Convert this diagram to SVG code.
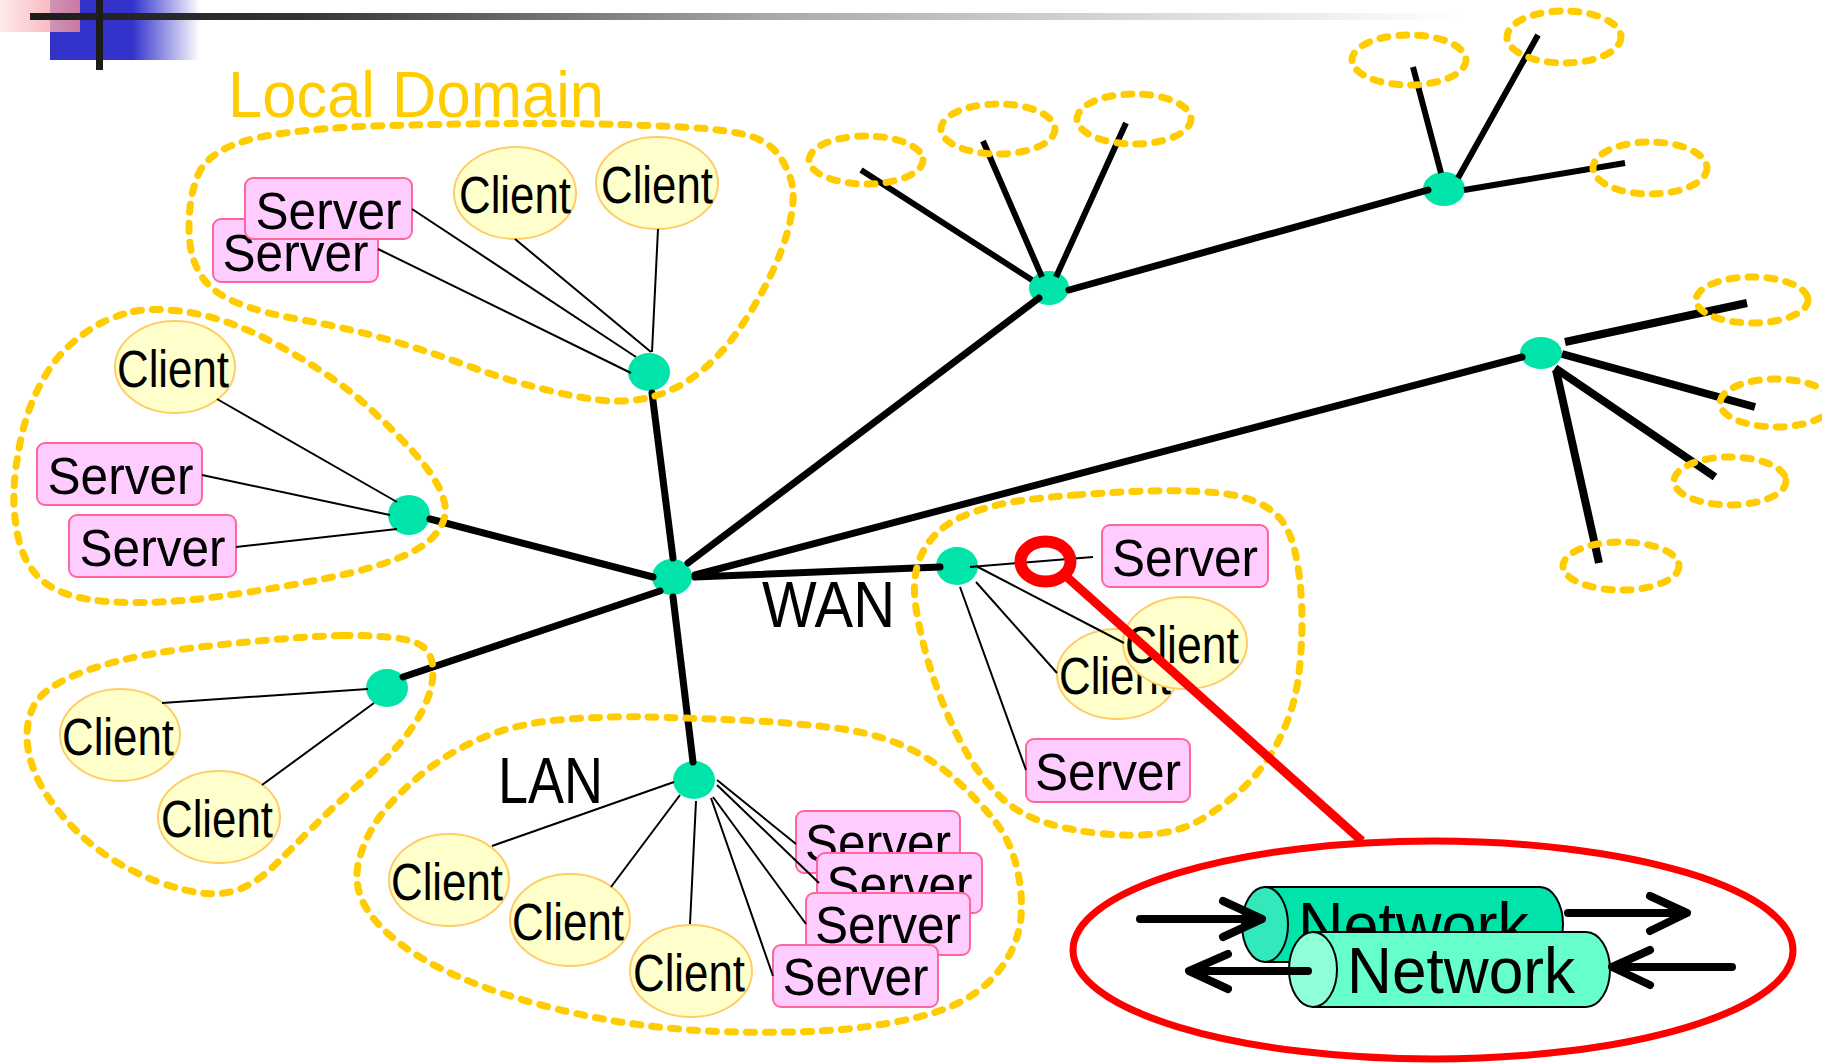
<svg xmlns="http://www.w3.org/2000/svg" width="1822" height="1064" viewBox="0 0 1822 1064">
<defs>
<linearGradient id="hdrLine" gradientUnits="userSpaceOnUse" x1="30" y1="0" x2="1460" y2="0">
<stop offset="0" stop-color="#1c1c1c"/><stop offset="0.19" stop-color="#333"/><stop offset="0.26" stop-color="#4d4d4d"/><stop offset="0.52" stop-color="#aaa"/><stop offset="0.68" stop-color="#c8c8c8"/><stop offset="1" stop-color="#fff"/>
</linearGradient>
<linearGradient id="hdrBlue" gradientUnits="userSpaceOnUse" x1="50" y1="0" x2="200" y2="0">
<stop offset="0" stop-color="#3333cc"/><stop offset="0.55" stop-color="#3333cc"/><stop offset="1" stop-color="#3333cc" stop-opacity="0"/>
</linearGradient>
<linearGradient id="hdrPink" gradientUnits="userSpaceOnUse" x1="0" y1="0" x2="80" y2="0">
<stop offset="0" stop-color="#ffe4e4"/><stop offset="1" stop-color="#f28a96"/>
</linearGradient>
<style>
.hub{fill:#00e3a9}
.cli{fill:#ffffcc;stroke:#ffcc66;stroke-width:2}
.srv{fill:#ffccff;stroke:#ff6699;stroke-width:2}
.lbl{font-family:"Liberation Sans",Arial,sans-serif;font-size:51px;fill:#000}
.big{font-family:"Liberation Sans",Arial,sans-serif;font-size:64px;fill:#000}
.thick{stroke:#000;stroke-width:7;stroke-linecap:round;fill:none}
.twig{stroke:#000;stroke-width:6;fill:none}
.twigB{stroke:#000;stroke-width:8;fill:none}
.thin{stroke:#000;stroke-width:2;fill:none}
.dom{fill:none;stroke:#ffcc00;stroke-width:7;stroke-dasharray:8 11;stroke-linecap:round}
.arr{stroke:#000;stroke-width:8;fill:none;stroke-linecap:round;stroke-linejoin:round}
.cyl{stroke:#000;stroke-width:2}
</style>
</defs>
<rect width="1822" height="1064" fill="#fff"/>

<g id="header">
<rect x="50" y="0" width="150" height="60" fill="url(#hdrBlue)"/>
<rect x="0" y="0" width="80" height="32" fill="url(#hdrPink)" opacity="0.8"/>
<rect x="30" y="13" width="1430" height="7" fill="url(#hdrLine)"/>
<rect x="96" y="0" width="7" height="70" fill="#1c1c1c"/>
</g>

<text id="title" x="228" y="117" font-family="Liberation Sans, Arial, sans-serif" font-size="64" fill="#ffcc00" textLength="376" lengthAdjust="spacingAndGlyphs">Local Domain</text>

<g id="hubs">
<ellipse id="hub-local" class="hub" cx="649" cy="372" rx="21" ry="19"/>
<ellipse id="hub-left" class="hub" cx="409" cy="515" rx="21" ry="20"/>
<ellipse id="hub-lowleft" class="hub" cx="387" cy="688" rx="21" ry="19"/>
<ellipse id="hub-center" class="hub" cx="672" cy="577" rx="20" ry="18"/>
<ellipse id="hub-lan" class="hub" cx="694" cy="780" rx="21" ry="19"/>
<ellipse id="hub-wan" class="hub" cx="957" cy="566" rx="21" ry="19"/>
<ellipse id="hub-a" class="hub" cx="1049" cy="288" rx="20" ry="17"/>
<ellipse id="hub-c" class="hub" cx="1444" cy="189" rx="21" ry="17"/>
<ellipse id="hub-b" class="hub" cx="1541" cy="353" rx="21" ry="16"/>
</g>

<g id="local-server-2"><rect class="srv" x="213" y="219" width="165" height="63" rx="8"/><text class="lbl" x="295.5" y="271" text-anchor="middle" textLength="146" lengthAdjust="spacingAndGlyphs">Server</text></g>
<g id="local-server-1"><rect class="srv" x="245" y="178" width="167" height="61" rx="8"/><text class="lbl" x="328.5" y="229" text-anchor="middle" textLength="146" lengthAdjust="spacingAndGlyphs">Server</text></g>
<g id="local-client-1"><ellipse class="cli" cx="515" cy="193" rx="61" ry="46"/><text class="lbl" x="515" y="213" text-anchor="middle" textLength="112" lengthAdjust="spacingAndGlyphs">Client</text></g>
<g id="local-client-2"><ellipse class="cli" cx="657" cy="183" rx="61" ry="46"/><text class="lbl" x="657" y="203" text-anchor="middle" textLength="112" lengthAdjust="spacingAndGlyphs">Client</text></g>

<g id="left-client"><ellipse class="cli" cx="175" cy="367" rx="60" ry="46"/><text class="lbl" x="173" y="387" text-anchor="middle" textLength="112" lengthAdjust="spacingAndGlyphs">Client</text></g>
<g id="left-server-1"><rect class="srv" x="37" y="443" width="165" height="62" rx="8"/><text class="lbl" x="120.5" y="494" text-anchor="middle" textLength="146" lengthAdjust="spacingAndGlyphs">Server</text></g>
<g id="left-server-2"><rect class="srv" x="69" y="515" width="167" height="62" rx="8"/><text class="lbl" x="152.5" y="566" text-anchor="middle" textLength="146" lengthAdjust="spacingAndGlyphs">Server</text></g>

<g id="ll-client-1"><ellipse class="cli" cx="120" cy="735" rx="60" ry="46"/><text class="lbl" x="118" y="755" text-anchor="middle" textLength="112" lengthAdjust="spacingAndGlyphs">Client</text></g>
<g id="ll-client-2"><ellipse class="cli" cx="219" cy="817" rx="61" ry="46"/><text class="lbl" x="217" y="837" text-anchor="middle" textLength="112" lengthAdjust="spacingAndGlyphs">Client</text></g>

<g id="lan-client-1"><ellipse class="cli" cx="449" cy="880" rx="60" ry="46"/><text class="lbl" x="447" y="900" text-anchor="middle" textLength="112" lengthAdjust="spacingAndGlyphs">Client</text></g>
<g id="lan-client-2"><ellipse class="cli" cx="570" cy="920" rx="60" ry="46"/><text class="lbl" x="568" y="940" text-anchor="middle" textLength="112" lengthAdjust="spacingAndGlyphs">Client</text></g>
<g id="lan-client-3"><ellipse class="cli" cx="691" cy="971" rx="61" ry="46"/><text class="lbl" x="689" y="991" text-anchor="middle" textLength="112" lengthAdjust="spacingAndGlyphs">Client</text></g>
<g id="lan-server-1"><rect class="srv" x="796" y="811" width="164" height="62" rx="8"/><text class="lbl" x="878" y="861" text-anchor="middle" textLength="146" lengthAdjust="spacingAndGlyphs">Server</text></g>
<g id="lan-server-2"><rect class="srv" x="817" y="853" width="165" height="60" rx="8"/><text class="lbl" x="899.5" y="903" text-anchor="middle" textLength="146" lengthAdjust="spacingAndGlyphs">Server</text></g>
<g id="lan-server-3"><rect class="srv" x="806" y="893" width="164" height="62" rx="8"/><text class="lbl" x="888" y="943" text-anchor="middle" textLength="146" lengthAdjust="spacingAndGlyphs">Server</text></g>
<g id="lan-server-4"><rect class="srv" x="773" y="945" width="165" height="62" rx="8"/><text class="lbl" x="855.5" y="995" text-anchor="middle" textLength="146" lengthAdjust="spacingAndGlyphs">Server</text></g>

<g id="wan-server-1"><rect class="srv" x="1102" y="525" width="166" height="62" rx="8"/><text class="lbl" x="1185" y="576" text-anchor="middle" textLength="146" lengthAdjust="spacingAndGlyphs">Server</text></g>
<g id="wan-client-1"><ellipse class="cli" cx="1117" cy="674" rx="60" ry="45"/><text class="lbl" x="1115" y="694" text-anchor="middle" textLength="112" lengthAdjust="spacingAndGlyphs">Client</text></g>
<g id="wan-client-2"><ellipse class="cli" cx="1185" cy="643" rx="62" ry="46"/><text class="lbl" x="1182" y="663" text-anchor="middle" textLength="114" lengthAdjust="spacingAndGlyphs">Client</text></g>
<g id="wan-server-2"><rect class="srv" x="1026" y="739" width="164" height="63" rx="8"/><text class="lbl" x="1108" y="790" text-anchor="middle" textLength="146" lengthAdjust="spacingAndGlyphs">Server</text></g>

<g id="connectors">
<path class="thick" d="M673,558 L652,393 M653,577 L430,519 M660,591 L403,677 M673,597 L693,762 M695,577 L940,567 M688,563 L1039,298 M695,575 L1522,357 M1069,290 L1428,190"/>
<path class="twig" d="M1032,280 L861,170 M1042,277 L983,141 M1056,277 L1126,123 M1441,173 L1413,67 M1458,178 L1538,35"/>
<path class="twig" stroke-width="7" d="M1464,190 L1625,163"/>
<path class="twigB" d="M1565,342 L1747,303 M1562,354 L1755,407 M1555,368 L1715,477 M1556,370 L1599,563"/>
<path class="thin" d="M412,209 L636,357 M378,249 L631,373 M515,239 L651,352 M658,229 L652,352"/>
<path class="thin" d="M217,399 L397,502 M202,475 L390,515 M236,547 L397,529"/>
<path class="thin" d="M162,703 L368,689 M262,785 L374,703"/>
<path class="thin" d="M492,846 L674,782 M611,887 L680,795 M690,924 L696,801 M717,780 L796,844 M717,785 L819,883 M713,797 L806,924 M711,798 L773,976"/>
<path class="thin" d="M970,567 L1093,557 M976,566 L1124,643 M976,582 L1057,673 M960,587 L1026,770"/>
</g>

<g id="domains">
<path class="dom" d="M 198,175 Q 204,160 222.5,150 Q 241,140 271.5,135 Q 302,130 343,127.5 Q 384,125 465.5,124 Q 547,123 598,124 Q 649,125 690,127.5 Q 731,130 751.5,136.5 Q 772,143 782,160 Q 792,177 793,191 Q 794,205 789,226 Q 784,247 771.5,273.5 Q 759,300 741,326.5 Q 723,353 702.5,370 Q 682,387 659.5,394.5 Q 637,402 612.5,401 Q 588,400 547,390 Q 506,380 465.5,365 Q 425,350 384,338.5 Q 343,327 302.5,320 Q 262,313 237.5,303 Q 213,293 202.5,277.5 Q 192,262 190,243.5 Q 188,225 190,207.5 Q 192,190 198,175 Z"/>
<path class="dom" d="M 133.5,311.5 Q 150,308 175,310.5 Q 200,313 225,321.5 Q 250,330 275,343.5 Q 300,357 325,373.5 Q 350,390 371.5,410 Q 393,430 411.5,450 Q 430,470 438.5,486.5 Q 447,503 445,515 Q 443,527 431.5,538.5 Q 420,550 393.5,560 Q 367,570 325,578.5 Q 283,587 233,594.5 Q 183,602 141.5,602.5 Q 100,603 75,596.5 Q 50,590 36.5,575 Q 23,560 18,536.5 Q 13,513 14,490 Q 15,467 21,438.5 Q 27,410 40,385 Q 53,360 70,345 Q 87,330 102,322.5 Q 117,315 133.5,311.5 Z"/>
<path class="dom" d="M 342,635.5 Q 367,635 392,637.5 Q 417,640 425,648.5 Q 433,657 433,672 Q 433,687 425,705 Q 417,723 400,743 Q 383,763 358,785 Q 333,807 313,827 Q 293,847 276.5,863.5 Q 260,880 243.5,887.5 Q 227,895 207,893.5 Q 187,892 160,882.5 Q 133,873 108,856.5 Q 83,840 63,816.5 Q 43,793 35,773 Q 27,753 27,736.5 Q 27,720 33.5,706.5 Q 40,693 61.5,681.5 Q 83,670 116.5,661.5 Q 150,653 191.5,648 Q 233,643 275,639.5 Q 317,636 342,635.5 Z"/>
<path class="dom" d="M 648,717 Q 688,718 737,720 Q 786,722 831,727.5 Q 876,733 905,746.5 Q 934,760 956,780 Q 978,800 994,820 Q 1010,840 1016.5,866.5 Q 1023,893 1021,916.5 Q 1019,940 1005.5,961.5 Q 992,983 967.5,998 Q 943,1013 898,1021.5 Q 853,1030 808.5,1031.5 Q 764,1033 719.5,1031.5 Q 675,1030 630.5,1023.5 Q 586,1017 541,1005 Q 496,993 458,976.5 Q 420,960 395.5,940 Q 371,920 362,900 Q 353,880 360,856.5 Q 367,833 382.5,813 Q 398,793 425,771.5 Q 452,750 485.5,736.5 Q 519,723 563.5,719.5 Q 608,716 648,717 Z"/>
<path class="dom" d="M 1075,495 Q 1100,493 1133.5,491.5 Q 1167,490 1200,491.5 Q 1233,493 1251.5,500 Q 1270,507 1280,518.5 Q 1290,530 1295,551.5 Q 1300,573 1301.5,601.5 Q 1303,630 1300,663.5 Q 1297,697 1287,722 Q 1277,747 1263.5,765 Q 1250,783 1233.5,796.5 Q 1217,810 1200,820 Q 1183,830 1158,833.5 Q 1133,837 1100,833.5 Q 1067,830 1042,821.5 Q 1017,813 1000,796.5 Q 983,780 970,758.5 Q 957,737 945,708.5 Q 933,680 925,650 Q 917,620 915,600 Q 913,580 918,563.5 Q 923,547 936.5,533.5 Q 950,520 975,511.5 Q 1000,503 1025,500 Q 1050,497 1075,495 Z"/>
<ellipse class="dom" cx="866" cy="160" rx="57" ry="24"/>
<ellipse class="dom" cx="998" cy="129" rx="57" ry="25"/>
<ellipse class="dom" cx="1134" cy="119" rx="57" ry="25"/>
<ellipse class="dom" cx="1409" cy="60" rx="57" ry="25"/>
<ellipse class="dom" cx="1564" cy="37" rx="57" ry="26"/>
<ellipse class="dom" cx="1650" cy="168" rx="57" ry="26"/>
<ellipse class="dom" cx="1752" cy="300" rx="56" ry="23"/>
<ellipse class="dom" cx="1776" cy="403" rx="56" ry="24"/>
<ellipse class="dom" cx="1730" cy="481" rx="56" ry="24"/>
<ellipse class="dom" cx="1621" cy="566" rx="58" ry="24"/>
</g>

<text id="lan-label" class="big" x="498" y="803" textLength="105" lengthAdjust="spacingAndGlyphs">LAN</text>
<text id="wan-label" class="big" x="762" y="627" textLength="133" lengthAdjust="spacingAndGlyphs">WAN</text>

<g id="zoom-detail">
<ellipse cx="1045.5" cy="561.5" rx="25" ry="20" fill="none" stroke="#ff0000" stroke-width="12"/>
<line x1="1068" y1="578" x2="1362" y2="841" stroke="#ff0000" stroke-width="9"/>
<ellipse cx="1433" cy="950" rx="360" ry="109" fill="none" stroke="#ff0000" stroke-width="7"/>
</g>

<g id="network-back">
<path class="cyl" fill="#00e3a9" d="M1265,887 H1540 A23,37.5 0 0 1 1540,962 H1265 Z"/>
<ellipse class="cyl" fill="#33e8bb" cx="1265" cy="924.5" rx="23" ry="37.5"/>
<text class="big" x="1298" y="948" textLength="231" lengthAdjust="spacingAndGlyphs">Network</text>
</g>
<path class="arr" d="M1140,919 H1258 M1223,901 L1262,919 L1223,937"/>
<g id="network-front">
<path class="cyl" fill="#66ffcc" d="M1313,932 H1586 A24,37.5 0 0 1 1586,1007 H1313 Z"/>
<ellipse class="cyl" fill="#8fffd8" cx="1313" cy="969.5" rx="24" ry="37.5"/>
<text class="big" x="1347" y="993" textLength="228" lengthAdjust="spacingAndGlyphs">Network</text>
</g>
<g id="arrows">
<path class="arr" d="M1308,971 H1193 M1228,954 L1189,971 L1228,989"/>
<path class="arr" d="M1568,913 H1683 M1650,896 L1687,913 L1650,931"/>
<path class="arr" d="M1732,967 H1616 M1650,950 L1612,967 L1650,985"/>
</g>
</svg>
